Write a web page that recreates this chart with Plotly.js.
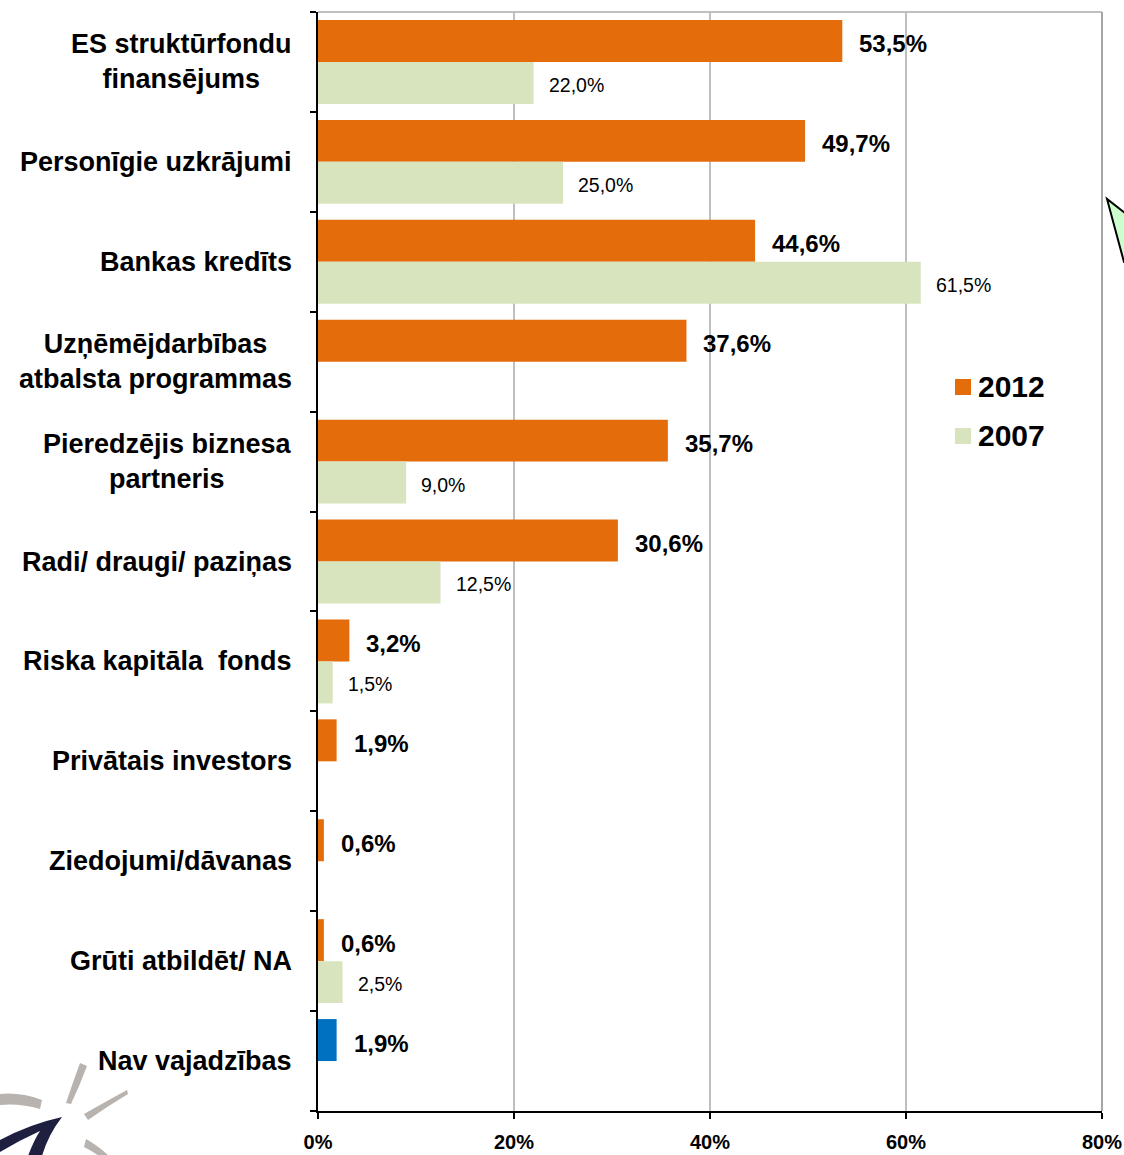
<!DOCTYPE html>
<html>
<head>
<meta charset="utf-8">
<script src="https://cdn.plot.ly/plotly-3.0.1.min.js"></script>
<style>html,body{margin:0;padding:0;background:#fff;}#chart{width:1124px;height:1155px;}</style>
</head>
<body>
<div id="chart"></div>
<script>
const categories = [
  "ES struktūrfondu<br>finansējums",
  "Personīgie uzkrājumi",
  "Bankas kredīts",
  "Uzņēmējdarbības<br>atbalsta programmas",
  "Pieredzējis biznesa<br>partneris",
  "Radi/ draugi/ paziņas",
  "Riska kapitāla  fonds",
  "Privātais investors",
  "Ziedojumi/dāvanas",
  "Grūti atbildēt/ NA",
  "Nav vajadzības"
];
const values2012 = [53.5, 49.7, 44.6, 37.6, 35.7, 30.6, 3.2, 1.9, 0.6, 0.6, 1.9];
const values2007 = [22.0, 25.0, 61.5, null, 9.0, 12.5, 1.5, null, null, 2.5, null];
const seriesNames = ["2012", "2007"];
const xTicks = [0, 20, 40, 60, 80];
const xTickLabels = ["0%", "20%", "40%", "60%", "80%"];

const ORANGE = "#E46C0A", GREEN = "#D7E4BD", BLUE = "#0070C0";
const colors2012 = values2012.map((v, i) => i === categories.length - 1 ? BLUE : ORANGE);
const idx = categories.map((c, i) => i);

const fmt = v => v.toFixed(1).replace('.', ',') + '%';

const traces = [
  {type: 'bar', orientation: 'h', name: seriesNames[0], x: values2012, y: idx,
   marker: {color: colors2012}, hoverinfo: 'none', showlegend: false},
  {type: 'bar', orientation: 'h', name: seriesNames[1], x: values2007, y: idx,
   marker: {color: GREEN}, hoverinfo: 'none', showlegend: false}
];

const FONT = "Liberation Sans, Arial, sans-serif";
const annotations = [];
categories.forEach((c, i) => {
  annotations.push({xref: 'paper', yref: 'y', x: 0, y: i, xanchor: 'right', yanchor: 'middle',
    xshift: -24, align: 'center', showarrow: false, text: c,
    font: {family: FONT, size: 27, color: '#000', weight: 'bold'}});
});
values2012.forEach((v, i) => {
  if (v === null) return;
  annotations.push({xref: 'x', yref: 'y', x: v, y: i - 0.21, xanchor: 'left', yanchor: 'middle',
    xshift: 15, yshift: -3, showarrow: false, text: fmt(v),
    font: {family: FONT, size: 24, color: '#000', weight: 'bold'}});
});
values2007.forEach((v, i) => {
  if (v === null) return;
  annotations.push({xref: 'x', yref: 'y', x: v, y: i + 0.21, xanchor: 'left', yanchor: 'middle',
    xshift: 13, yshift: -2, showarrow: false, text: fmt(v),
    font: {family: FONT, size: 19.5, color: '#000'}});
});

// pixel -> paper helpers (plot area: x 318..1102, y 12..1111)
const px = x => (x - 318) / 784;
const py = y => (1111 - y) / 1099;

// custom legend
const legendColors = [ORANGE, GREEN];
const legendY = [387, 436];
const shapes = [];
seriesNames.forEach((n, k) => {
  shapes.push({type: 'rect', xref: 'paper', yref: 'paper', x0: px(955), x1: px(971),
    y0: py(legendY[k] - 8), y1: py(legendY[k] + 8), fillcolor: legendColors[k], line: {width: 0}});
  annotations.push({xref: 'paper', yref: 'paper', x: px(976), y: py(legendY[k]), xanchor: 'left', yanchor: 'middle',
    showarrow: false, text: n, font: {family: FONT, size: 30, color: '#000', weight: 'bold'}});
});

// top and right frame (gray)
shapes.push({type: 'line', xref: 'paper', yref: 'paper', x0: 0, x1: 1, y0: 1, y1: 1, line: {color: '#BFBFBF', width: 2}});
shapes.push({type: 'line', xref: 'paper', yref: 'paper', x0: 1, x1: 1, y0: 0, y1: 1, line: {color: '#A6A6A6', width: 2}});

// speech bubble fragment at right edge
const P = (x, y) => px(x).toFixed(5) + ',' + py(y).toFixed(5);
shapes.push({type: 'path', xref: 'paper', yref: 'paper',
  path: 'M' + P(1130, 217) + ' L' + P(1107, 199) + ' L' + P(1124, 262) + ' L' + P(1130, 262) + ' Z',
  fillcolor: '#CCFFCC', line: {color: '#000', width: 2}});

// decorative logo fragment bottom-left
const gray = '#B8B3AE';
shapes.push({type: 'path', xref: 'paper', yref: 'paper',
  path: 'M' + P(80, 1063) + ' Q' + P(72, 1085) + ' ' + P(66, 1103) + ' L' + P(71, 1104) + ' Q' + P(80, 1085) + ' ' + P(87, 1066) + ' Z',
  fillcolor: gray, line: {width: 0}});
shapes.push({type: 'path', xref: 'paper', yref: 'paper',
  path: 'M' + P(127, 1090) + ' Q' + P(105, 1102) + ' ' + P(84, 1114) + ' L' + P(88, 1120) + ' Q' + P(108, 1106) + ' ' + P(128, 1094) + ' Z',
  fillcolor: gray, line: {width: 0}});
shapes.push({type: 'path', xref: 'paper', yref: 'paper',
  path: 'M' + P(0, 1094) + ' Q' + P(20, 1092) + ' ' + P(42, 1100) + ' L' + P(40, 1109) + ' Q' + P(20, 1103) + ' ' + P(0, 1105) + ' Z',
  fillcolor: gray, line: {width: 0}});
shapes.push({type: 'path', xref: 'paper', yref: 'paper',
  path: 'M' + P(86, 1139) + ' Q' + P(97, 1145) + ' ' + P(108, 1155) + ' L' + P(99, 1156) + ' Q' + P(92, 1151) + ' ' + P(84, 1147) + ' Z',
  fillcolor: gray, line: {width: 0}});
shapes.push({type: 'path', xref: 'paper', yref: 'paper',
  path: 'M' + P(0, 1140) + ' Q' + P(30, 1124) + ' ' + P(62, 1117) + ' Q' + P(48, 1135) + ' ' + P(42, 1156) + ' L' + P(28, 1156) + ' Q' + P(34, 1140) + ' ' + P(40, 1131) + ' Q' + P(20, 1140) + ' ' + P(0, 1152) + ' Z',
  fillcolor: '#1F1F3F', line: {width: 0}});

const layout = {
  width: 1124, height: 1155,
  margin: {l: 318, r: 22, t: 12, b: 44},
  paper_bgcolor: '#fff', plot_bgcolor: '#fff',
  barmode: 'group', bargap: 0.16, bargroupgap: 0,
  showlegend: false,
  xaxis: {range: [0, 80], tickmode: 'array', tickvals: xTicks, ticktext: xTickLabels, showgrid: true, gridcolor: '#BFBFBF', gridwidth: 1.5,
    zeroline: false, showline: true, linecolor: '#000', linewidth: 2, ticks: 'outside', ticklen: 6, tickcolor: '#000', tickwidth: 2,
    ticklabelstandoff: 6,
    tickfont: {family: "Liberation Sans Narrow, Arial Narrow, Liberation Sans, sans-serif", size: 20, color: '#000', weight: 'bold'},
    fixedrange: true},
  yaxis: {type: 'linear', range: [10.5, -0.5], tickvals: idx.map(i => i - 0.5).concat([10.5]), showticklabels: false,
    showgrid: false, zeroline: false, showline: true, linecolor: '#000', linewidth: 2,
    ticks: 'outside', ticklen: 6, tickcolor: '#000', tickwidth: 2, fixedrange: true},
  annotations: annotations,
  shapes: shapes
};

Plotly.newPlot('chart', traces, layout, {displayModeBar: false, staticPlot: true});
</script>
</body>
</html>
